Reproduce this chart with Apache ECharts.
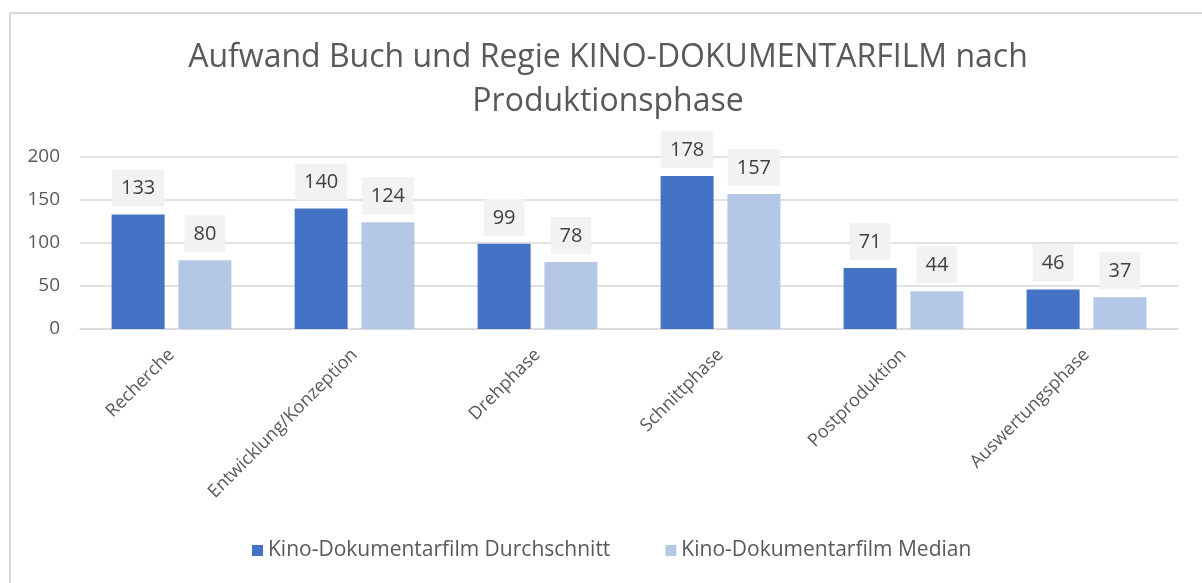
<!DOCTYPE html>
<html>
<head>
<meta charset="utf-8">
<script src="https://cdn.jsdelivr.net/npm/echarts@6/dist/echarts.min.js"></script>
<style>
  html, body { margin: 0; padding: 0; background: #fff; }
  #chart { width: 1202px; height: 583px; }
</style>
</head>
<body>
<div id="chart"></div>
<script>
const categories = ['Recherche', 'Entwicklung/Konzeption', 'Drehphase', 'Schnittphase', 'Postproduktion', 'Auswertungsphase']
const durchschnitt = [133, 140, 99, 178, 71, 46]
const median = [80, 124, 78, 157, 44, 37]
const yTicks = [0, 50, 100, 150, 200]

const font = '"Open Sans", sans-serif'
const grey = '#595959'

const chart = echarts.init(document.getElementById('chart'))

const label = {
    show: true,
    position: 'top',
    distance: 8,
    fontFamily: font,
    fontSize: 20,
    color: '#404040',
    backgroundColor: '#f2f2f2',
    padding: [9, 9, 8, 9]
}

chart.setOption({
    animation: false,
    textStyle: { fontFamily: font },
    graphic: [{
        type: 'rect',
        shape: { x: 10, y: 13, width: 1200, height: 600 },
        style: { fill: 'none', stroke: '#d9d9d9', lineWidth: 2 },
        silent: true
    }],
    title: {
        text: 'Aufwand Buch und Regie KINO-DOKUMENTARFILM nach\nProduktionsphase',
        left: 608,
        top: 36,
        padding: 0,
        textAlign: 'center',
        textStyle: {
            fontFamily: font,
            fontSize: 32,
            fontWeight: 'normal',
            color: grey,
            lineHeight: 44
        }
    },
    legend: {
        top: 540,
        left: 252,
        padding: 0,
        itemWidth: 11,
        itemHeight: 11,
        itemGap: 55,
        icon: 'rect',
        textStyle: { fontFamily: font, fontSize: 21, color: grey },
        data: ['Kino-Dokumentarfilm Durchschnitt', 'Kino-Dokumentarfilm Median']
    },
    grid: { left: 80, right: 24, top: 157, bottom: 254 },
    xAxis: {
        type: 'category',
        data: categories,
        axisLine: { lineStyle: { color: '#d9d9d9', width: 1.5 } },
        axisTick: { show: false },
        axisLabel: {
            rotate: 45,
            margin: 23,
            fontFamily: font,
            fontSize: 18,
            color: grey,
            interval: 0
        }
    },
    yAxis: {
        type: 'value',
        min: yTicks[0],
        max: yTicks[yTicks.length - 1],
        interval: 50,
        axisLine: { show: false },
        axisTick: { show: false },
        splitLine: { lineStyle: { color: '#d9d9d9', width: 1.5 } },
        axisLabel: { fontFamily: font, fontSize: 19, color: grey, margin: 20 }
    },
    series: [
        {
            name: 'Kino-Dokumentarfilm Durchschnitt',
            type: 'bar',
            data: durchschnitt,
            barWidth: 53,
            barGap: '26%',
            itemStyle: { color: '#4472c4' },
            label: label
        },
        {
            name: 'Kino-Dokumentarfilm Median',
            type: 'bar',
            data: median,
            barWidth: 53,
            itemStyle: { color: '#b4c7e7' },
            label: label
        }
    ]
})

window.addEventListener('resize', () => {
    chart.resize()
})
</script>
</body>
</html>
